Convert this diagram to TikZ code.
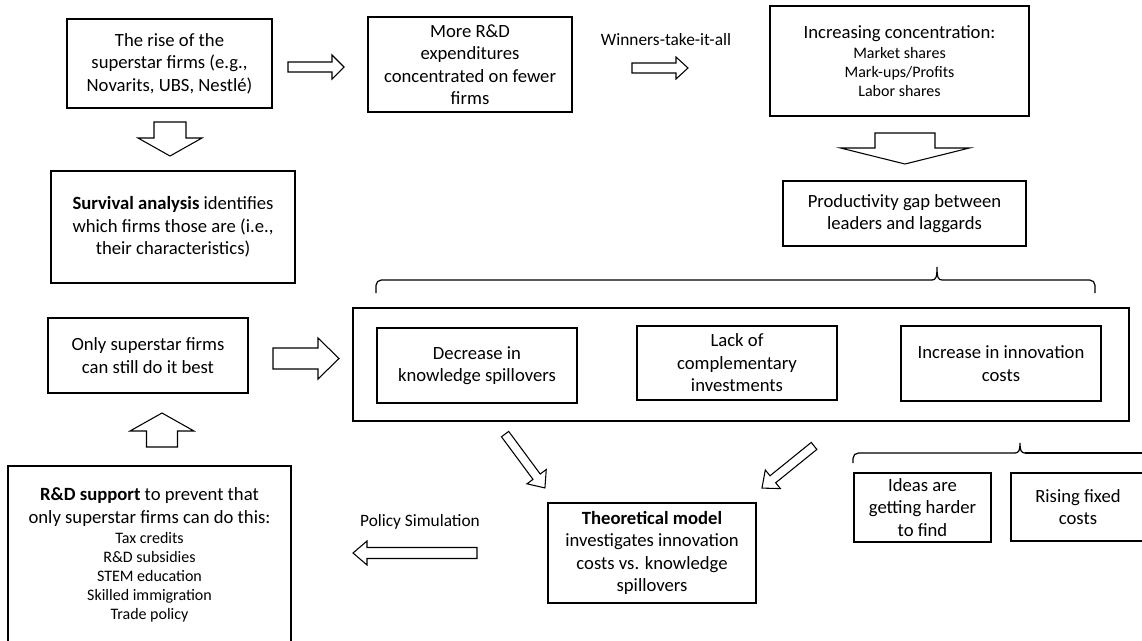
\documentclass[tikz,border=0pt]{standalone}
\usepackage{fontspec}
\setmainfont{Carlito}
\newcommand{\smalltxt}{\fontsize{12}{14.25}\selectfont}
\newlength{\px}
\setlength{\px}{0.75pt}
% position, angle, length, shaft half width, head half width, head length
\newcommand{\blockarrow}[6]{%
  \draw[line width=0.8pt,shift={#1},rotate=#2] (-#3/2,-#4) -- (#3/2-#6,-#4) -- (#3/2-#6,-#5)
    -- (#3/2,0) -- (#3/2-#6,#5) -- (#3/2-#6,#4) -- (-#3/2,#4) -- cycle;}
\tikzset{
  box/.style={draw,line width=0.9pt},
  label/.style={font=\fontsize{13}{15.6}\selectfont}
}

\begin{document}
\begin{tikzpicture}[x=0.75pt,y=-0.75pt,
  every node/.style={font=\fontsize{14}{16.9}\selectfont,align=center,inner sep=0pt}]
\clip (0,0) rectangle (1142,640);

\node[box,minimum width=205\px,minimum height=89\px] (rise) at (169.5,63.5) {The rise of the\\superstar firms (e.g.,\\Novarits, UBS, Nestlé)};
\node[box,minimum width=244\px,minimum height=112\px] (surv) at (173,227) {\textbf{Survival analysis} identifies\\which firms those are (i.e.,\\their characteristics)};
\node[box,minimum width=204\px,minimum height=95\px] (rdexp) at (470,64.5) {More R\&D\\expenditures\\concentrated on fewer\\firms};
\node[box,minimum width=259\px,minimum height=110\px] (conc) at (899.5,61) {Increasing concentration:\\[-1.5pt]\smalltxt Market shares\\[-2.7pt]\smalltxt Mark-ups/Profits\\[-2.7pt]\smalltxt Labor shares};
\node[box,minimum width=243\px,minimum height=65\px] (gap) at (904.5,213.5) {Productivity gap between\\leaders and laggards};
\node[box,minimum width=200\px,minimum height=75\px] (only) at (148,355.5) {Only superstar firms\\can still do it best};
\node[box,minimum width=776\px,minimum height=113\px] (mech) at (741,364.5) {};
\node[box,minimum width=200\px,minimum height=75\px] (spill) at (477,365.5) {Decrease in\\knowledge spillovers};
\node[box,minimum width=200\px,minimum height=74\px] (compl) at (737,363) {Lack of\\complementary\\investments};
\node[box,minimum width=200\px,minimum height=75\px] (cost) at (1001,363.5) {Increase in innovation\\costs};
\node[box,minimum width=208\px,minimum height=100\px] (model) at (652,553) {\textbf{Theoretical model}\\investigates innovation\\costs vs. knowledge\\spillovers};
\node[box,minimum width=137\px,minimum height=69\px] (ideas) at (922.5,507.5) {Ideas are\\getting harder\\to find};
\node[box,minimum width=134\px,minimum height=68\px] (fixed) at (1078,507) {Rising fixed\\costs};
\node[box,minimum width=283\px,minimum height=178\px] (support) at (149.5,555) {\textbf{R\&D support} to prevent that\\only superstar firms can do this:\\[-1.5pt]\smalltxt Tax credits\\[-2.7pt]\smalltxt R\&D subsidies\\[-2.7pt]\smalltxt STEM education\\[-2.7pt]\smalltxt Skilled immigration\\[-2.7pt]\smalltxt Trade policy};

\node[label] (wta) at (666,40) {Winners-take-it-all};
\node[label] (polsim) at (420,522) {Policy Simulation};

\blockarrow{(316,67)}{0}{56}{5}{12}{12}
\blockarrow{(660,68)}{0}{56}{5}{11}{12}
\blockarrow{(170,139)}{-90}{34}{16}{32}{18}
\blockarrow{(905,148.5)}{-90}{31}{30}{64.5}{16}
\blockarrow{(306,358.5)}{0}{66}{10.5}{20.5}{21}
\blockarrow{(162,430)}{90}{34}{15.5}{32}{18}
\blockarrow{(525,461)}{-53.5}{67}{4.5}{12}{14}
\blockarrow{(788,467)}{-141}{67}{4.5}{12}{14}
\blockarrow{(415,553)}{180}{124}{5.5}{12}{14}

\draw[line width=0.9pt,rounded corners=4] (376,293) -- (376,280) -- (932,280);
\draw[line width=0.9pt] (932,280) .. controls (936,280) and (937,277) .. (937,267)
  .. controls (937,277) and (938,280) .. (942,280);
\draw[line width=0.9pt,rounded corners=4] (942,280) -- (1095,280) -- (1095,293);

\draw[line width=0.9pt,rounded corners=4] (853,463) -- (853,453) -- (1015,453);
\draw[line width=0.9pt] (1015,453) .. controls (1019,453) and (1020,450) .. (1020,443)
  .. controls (1020,450) and (1021,453) .. (1025,453);
\draw[line width=0.9pt] (1025,453) -- (1150,453);
\end{tikzpicture}
\end{document}
